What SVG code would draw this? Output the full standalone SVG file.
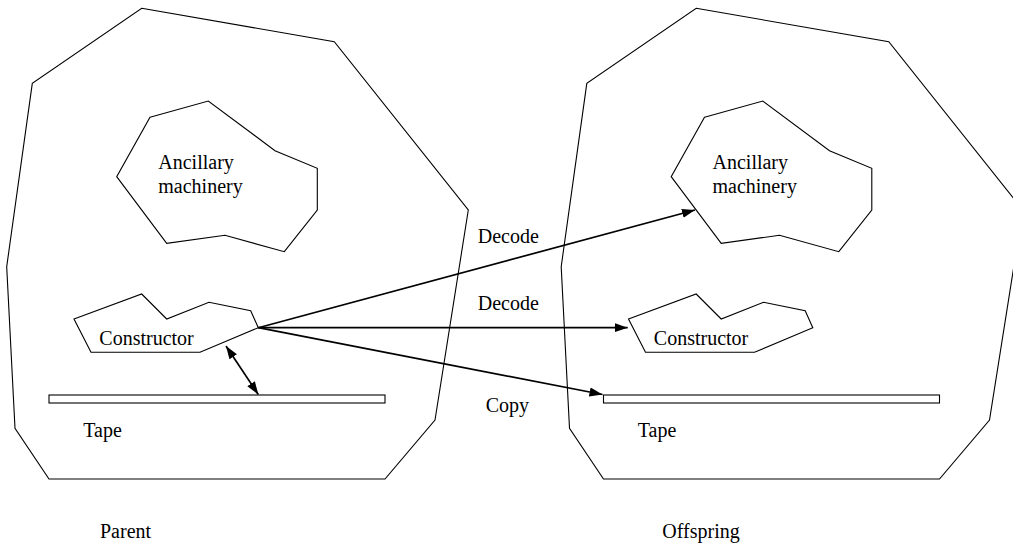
<svg xmlns="http://www.w3.org/2000/svg" width="1013" height="544" viewBox="0 0 1013 544">
<style>
.shape{fill:none;stroke:#000;stroke-width:1.1;stroke-linejoin:miter}
.tape{fill:#fff;stroke:#000;stroke-width:1.1}
.conn{fill:none;stroke:#000;stroke-width:1.7}
text{font-family:"Liberation Serif","Times New Roman",serif;font-size:20px;fill:#000}
</style>
<defs>
<marker id="ah" markerUnits="userSpaceOnUse" markerWidth="14" markerHeight="10" refX="13" refY="4.5" orient="auto-start-reverse" viewBox="0 0 14 9">
<path d="M0,0 L13,4.5 L0,9 Z" fill="#000"/>
</marker>
<polygon id="outer" points="141.7,8.3 334.3,41.7 468.3,210 435,420 385,479 49,479 15,428.3 6.7,266.7 32.3,83.3"/>
<polygon id="anc" points="150,117.3 208.3,101 275,150.7 317.3,168.3 317.3,210 284.3,251.7 225,235.3 166.7,243.3 116.7,176.7"/>
<polygon id="cons" points="74,319 141.7,294 166.7,319 209,302.3 250.7,310.7 258.3,327.7 200,352.3 91,352.3"/>
</defs>
<g id="parent">
<use href="#outer" class="shape"/>
<text x="100" y="538">Parent</text>
</g>
<g id="parent-ancillary">
<use href="#anc" class="shape"/>
<text x="158.3" y="168.5">Ancillary</text>
<text x="158.3" y="192.5">machinery</text>
</g>
<g id="parent-constructor">
<use href="#cons" class="shape"/>
<text x="99.3" y="345">Constructor</text>
</g>
<g id="parent-tape">
<rect x="49" y="395" width="336" height="8" class="tape"/>
<text x="83.3" y="437">Tape</text>
</g>
<g id="offspring">
<use href="#outer" class="shape" transform="translate(554.5,0)"/>
<text x="662.3" y="538">Offspring</text>
</g>
<g id="offspring-ancillary">
<use href="#anc" class="shape" transform="translate(554.5,0)"/>
<text x="712.5" y="168.5">Ancillary</text>
<text x="712.5" y="192.5">machinery</text>
</g>
<g id="offspring-constructor">
<use href="#cons" class="shape" transform="translate(554.5,0)"/>
<text x="653.8" y="345">Constructor</text>
</g>
<g id="offspring-tape">
<rect x="603.5" y="395" width="336" height="8" class="tape"/>
<text x="637.8" y="437">Tape</text>
</g>
<g id="connectors">
<line x1="258.3" y1="327.7" x2="695" y2="210" class="conn" marker-end="url(#ah)"/>
<line x1="258.3" y1="327.7" x2="627.7" y2="327.7" class="conn" marker-end="url(#ah)"/>
<line x1="258.3" y1="327.7" x2="602.5" y2="394.5" class="conn" marker-end="url(#ah)"/>
<line x1="226" y1="346" x2="258.3" y2="394.5" class="conn" marker-start="url(#ah)" marker-end="url(#ah)"/>
<text x="477.7" y="243.3">Decode</text>
<text x="477.7" y="310">Decode</text>
<text x="485.7" y="411.7">Copy</text>
</g>
</svg>
